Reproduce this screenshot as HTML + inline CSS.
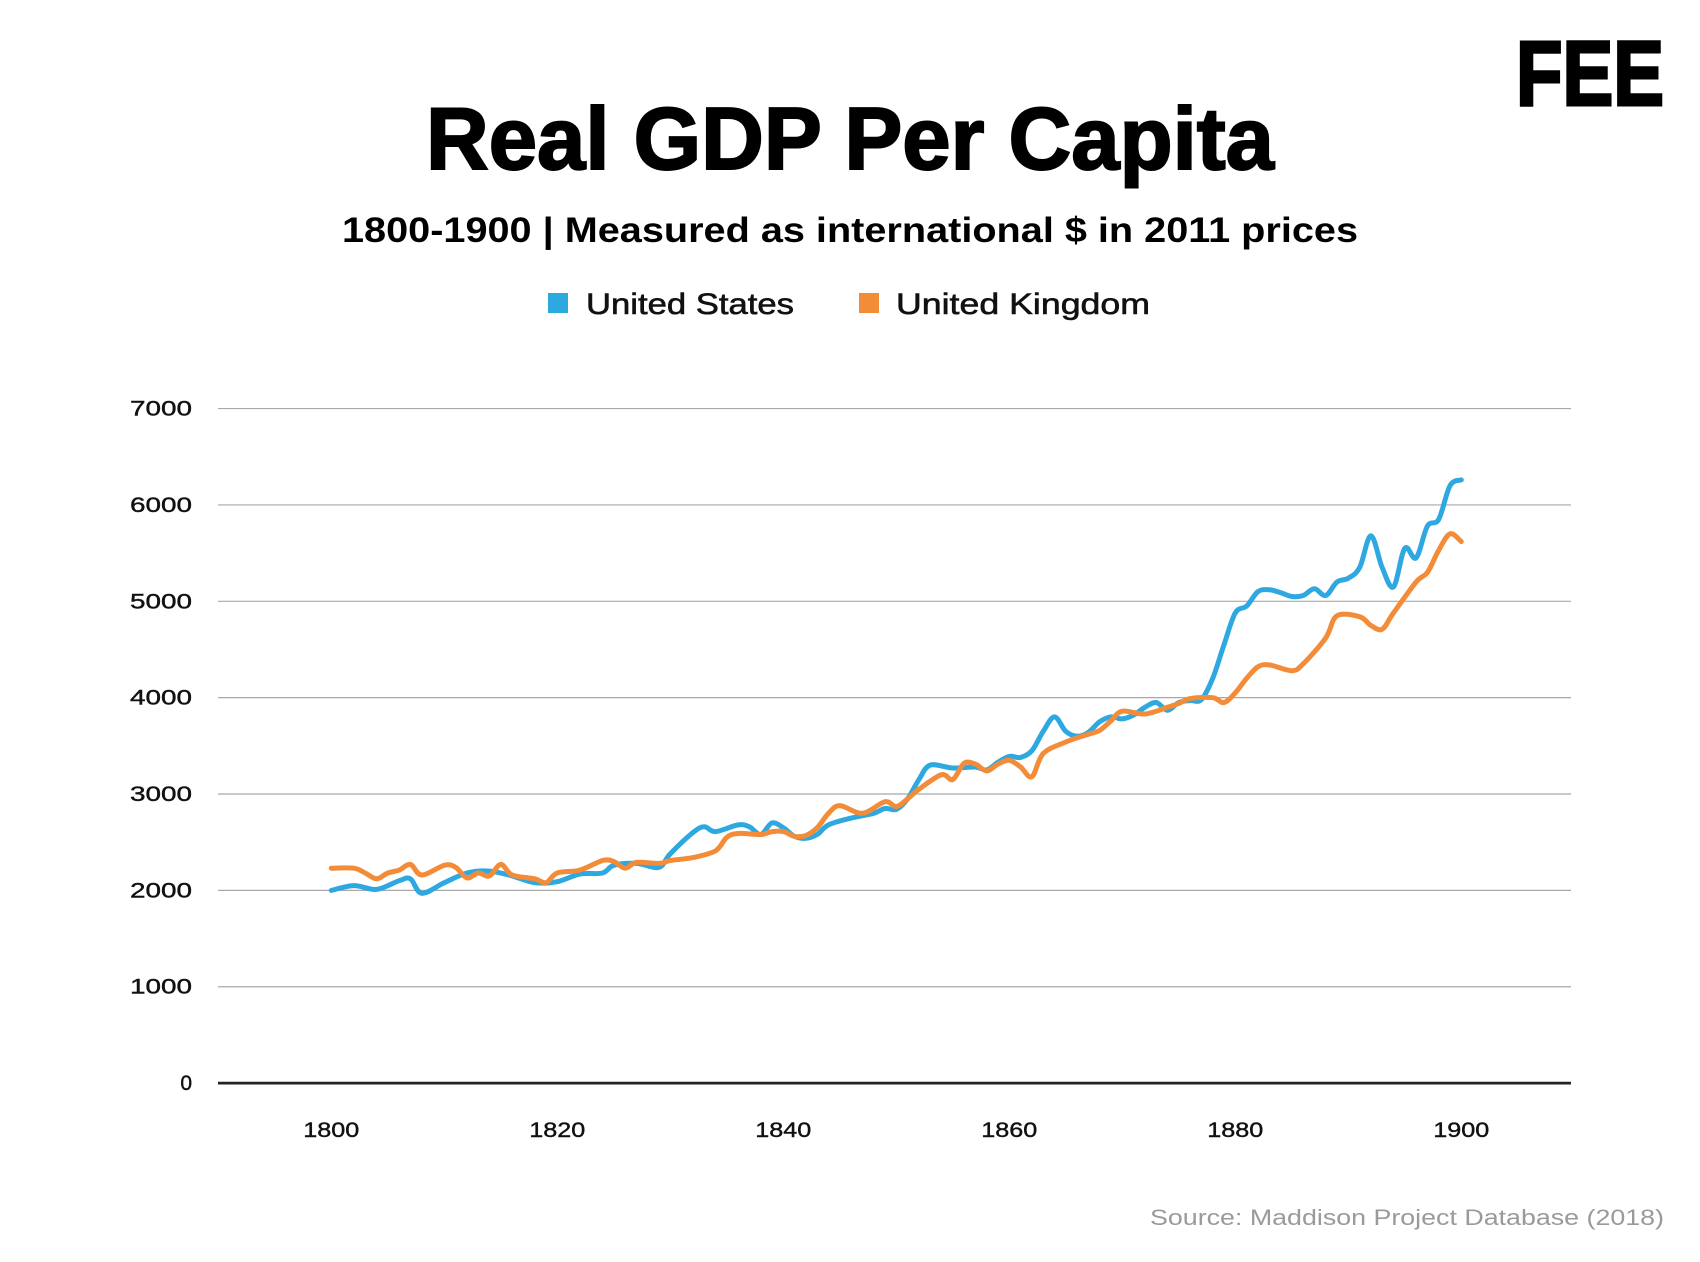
<!DOCTYPE html>
<html><head><meta charset="utf-8"><style>
html,body{margin:0;padding:0;background:#fff;}
svg{display:block;}
text{font-family:"Liberation Sans",sans-serif;}
</style></head><body>
<svg id="s" width="1700" height="1262" viewBox="0 0 1700 1262" xmlns="http://www.w3.org/2000/svg">
<rect width="1700" height="1262" fill="#fff"/>
<text x="1516" y="105" font-size="92" font-weight="bold" textLength="148" lengthAdjust="spacingAndGlyphs" fill="#000" stroke="#000" stroke-width="3">FEE</text>
<text x="850" y="169" text-anchor="middle" font-size="88" font-weight="bold" textLength="848" lengthAdjust="spacingAndGlyphs" fill="#000" stroke="#000" stroke-width="2">Real GDP Per Capita</text>
<text x="342" y="242" font-size="35" font-weight="bold" textLength="1016" lengthAdjust="spacingAndGlyphs" fill="#000">1800-1900 | Measured as international $ in 2011 prices</text>
<rect x="548" y="293" width="20" height="20" fill="#2EA8E0"/>
<text x="586" y="314" font-size="30" textLength="208" lengthAdjust="spacingAndGlyphs" fill="#111" stroke="#111" stroke-width="0.6">United States</text>
<rect x="859" y="293" width="20" height="20" fill="#F28C38"/>
<text x="896" y="314" font-size="30" textLength="254" lengthAdjust="spacingAndGlyphs" fill="#111" stroke="#111" stroke-width="0.6">United Kingdom</text>
<g id="grid"></g>
<g id="lines"></g>
<text x="1664" y="1225" text-anchor="end" font-size="22" textLength="514" lengthAdjust="spacingAndGlyphs" fill="#9a9a9a">Source: Maddison Project Database (2018)</text>
</svg>
<script>
var NS="http://www.w3.org/2000/svg";
function X(yr){return 331.3+(yr-1800)*11.3;}
function Y(v){return 1083.1-v*0.09636;}
var g=document.getElementById('grid');
function el(t,a,txt,p){var e=document.createElementNS(NS,t);for(var k in a)e.setAttribute(k,a[k]);if(txt!=null)e.textContent=txt;(p||g).appendChild(e);return e;}
for(var v=1000;v<=7000;v+=1000){el('line',{x1:218,x2:1571,y1:Y(v),y2:Y(v),stroke:'#a8a8a8','stroke-width':1.2});}
for(var v=0;v<=7000;v+=1000){var a={x:192,y:Y(v)+7,'text-anchor':'end','font-size':21,fill:'#111',stroke:'#111','stroke-width':0.4};if(v>0){a.textLength=62;a.lengthAdjust='spacingAndGlyphs';}el('text',a,String(v));}
for(var yr=1800;yr<=1900;yr+=20){el('text',{x:X(yr),y:1137,'text-anchor':'middle','font-size':21,fill:'#111',stroke:'#111','stroke-width':0.4,textLength:56,lengthAdjust:'spacingAndGlyphs'},String(yr));}
el('line',{x1:218,x2:1571,y1:Y(0),y2:Y(0),stroke:'#222','stroke-width':2.8});
var us=[1800,2000,1802,2050,1804,2010,1806,2100,1807,2120,1808,1970,1810,2080,1812,2180,1814,2200,1816,2150,1818,2080,1820,2090,1822,2170,1824,2180,1825,2260,1827,2280,1829,2240,1830,2380,1832,2600,1833,2660,1834,2610,1836,2680,1837,2660,1838,2580,1839,2700,1840,2650,1841,2560,1842,2540,1843,2580,1844,2680,1846,2750,1848,2800,1849,2850,1850,2840,1851,2950,1852,3150,1853,3300,1855,3270,1857,3280,1858,3250,1859,3330,1860,3390,1861,3380,1862,3450,1863,3650,1864,3800,1865,3650,1866,3600,1867,3640,1868,3750,1869,3800,1870,3780,1871,3820,1872,3900,1873,3950,1874,3870,1875,3950,1876,3970,1877,3980,1878,4200,1879,4550,1880,4880,1881,4950,1882,5100,1883,5120,1884,5090,1885,5050,1886,5060,1887,5130,1888,5060,1889,5200,1890,5240,1891,5350,1892,5680,1893,5350,1894,5150,1895,5550,1896,5450,1897,5780,1898,5850,1899,6200,1900,6260];
var uk=[1800,2230,1802,2230,1803,2180,1804,2120,1805,2180,1806,2210,1807,2270,1808,2160,1810,2260,1811,2240,1812,2130,1813,2180,1814,2150,1815,2270,1816,2160,1818,2120,1819,2080,1820,2180,1822,2210,1824,2310,1825,2300,1826,2230,1827,2290,1829,2280,1830,2310,1832,2340,1834,2410,1835,2550,1836,2590,1838,2580,1839,2610,1840,2610,1841,2560,1842,2570,1843,2650,1844,2800,1845,2880,1847,2800,1849,2920,1850,2870,1851,2950,1852,3050,1854,3200,1855,3150,1856,3320,1857,3310,1858,3240,1859,3310,1860,3350,1861,3280,1862,3180,1863,3420,1865,3540,1867,3620,1868,3660,1869,3760,1870,3860,1872,3830,1874,3900,1875,3940,1876,3990,1878,4000,1879,3950,1880,4050,1881,4200,1882,4320,1883,4340,1885,4280,1886,4350,1888,4620,1889,4850,1891,4840,1892,4750,1893,4710,1894,4880,1896,5200,1897,5300,1898,5530,1899,5700,1900,5620];
function path(d){var p=[];for(var i=0;i<d.length;i+=2)p.push([X(d[i]),Y(d[i+1])]);
var s='M'+p[0][0].toFixed(1)+','+p[0][1].toFixed(1);
for(var i=0;i<p.length-1;i++){var p0=p[i-1]||p[i],p1=p[i],p2=p[i+1],p3=p[i+2]||p2;
var c1x=p1[0]+(p2[0]-p0[0])/6,c1y=p1[1]+(p2[1]-p0[1])/6,c2x=p2[0]-(p3[0]-p1[0])/6,c2y=p2[1]-(p3[1]-p1[1])/6;
s+=' C'+c1x.toFixed(1)+','+c1y.toFixed(1)+' '+c2x.toFixed(1)+','+c2y.toFixed(1)+' '+p2[0].toFixed(1)+','+p2[1].toFixed(1);}
return s;}
var L=document.getElementById('lines');
el('path',{d:path(us),fill:'none',stroke:'#2EA8E0','stroke-width':5,'stroke-linecap':'round','stroke-linejoin':'round'},null,L);
el('path',{d:path(uk),fill:'none',stroke:'#F28C38','stroke-width':5,'stroke-linecap':'round','stroke-linejoin':'round'},null,L);
</script>
</body></html>
